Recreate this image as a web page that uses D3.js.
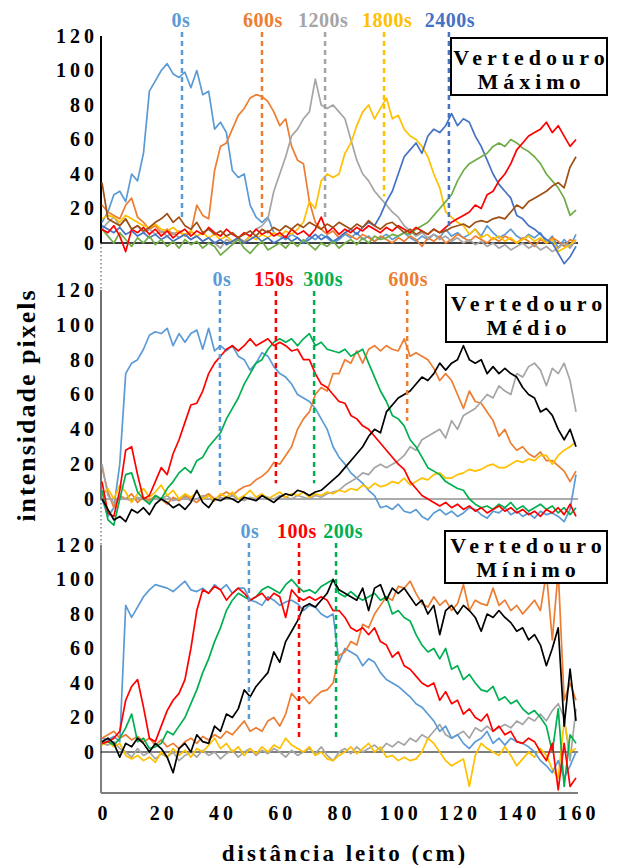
<!DOCTYPE html>
<html>
<head>
<meta charset="utf-8">
<script src="https://cdn.jsdelivr.net/npm/d3@7"></script>
<style>
  body { margin: 0; background: #fff; }
  text { font-family: "Liberation Serif", "Times New Roman", serif; font-weight: bold; }
</style>
</head>
<body>
<svg id="chart" width="617" height="865"></svg>
<script>

  // distance along the bed (cm), shared by every curve
  var dist = [
    0, 2, 4, 6, 8, 10, 12, 14, 16, 18,
    20, 22, 24, 26, 28, 30, 32, 34, 36, 38,
    40, 42, 44, 46, 48, 50, 52, 54, 56, 58,
    60, 62, 64, 66, 68, 70, 72, 74, 76, 78,
    80, 82, 84, 86, 88, 90, 92, 94, 96, 98,
    100, 102, 104, 106, 108, 110, 112, 114, 116, 118,
    120, 122, 124, 126, 128, 130, 132, 134, 136, 138,
    140, 142, 144, 146, 148, 150, 152, 154, 156, 158,
    160];

  var yTicks = [0, 20, 40, 60, 80, 100, 120];
  var xTicks = [0, 20, 40, 60, 80, 100, 120, 140, 160];

  // ---- Vertedouro Maximo ----
  var max0 = [
    12, 18, 28, 30, 24, 40, 36, 52, 88, 94,
    100, 104, 98, 96, 99, 90, 100, 86, 88, 66,
    70, 64, 42, 38, 40, 22, 15, 12, 15, 6,
    4, 2, 5, 3, 0, 4, 2, 5, 3, 0,
    2, 5, 3, 6, 2, 4, 1, 3, 5, 2,
    4, 6, 3, 1, 4, 2, 5, 3, 8, 4,
    6, 3, 5, 8, 4, 10, 6, 3, 5, 8,
    4, 2, 5, 3, 6, 0, 4, -3, 2, -2,
    5];
  var max600 = [
    22, 18, 16, 14, 22, 26, 15, 12, 8, 10,
    6, 8, 5, 7, 4, 6, 22, 16, 14, 42,
    56, 58, 66, 74, 78, 84, 86, 85, 82, 76,
    68, 72, 56, 48, 46, 24, 12, 8, 5, 7,
    3, 6, 4, 2, 5, 3, 1, 4, 2, 0,
    3, 1, 4, 2, -2, 3, 1, 4, 0, 2,
    5, 3, 1, 4, 2, 0, 3, 1, 4, 2,
    0, 3, 1, -2, 2, 0, 3, 1, -2, 2,
    0];
  var max1200 = [
    8, 12, 15, 10, 14, 8, 10, 6, 8, 5,
    7, 4, 6, 3, 5, 2, 4, 1, 3, 0,
    -3, 2, 0, 3, 1, 4, 8, 10, 14, 30,
    40, 50, 62, 66, 72, 76, 95, 80, 78, 80,
    76, 72, 60, 48, 40, 36, 30, 26, 22, 18,
    15, 10, 7, 4, 6, 3, 5, 2, 4, 1,
    3, 0, 2, -1, 1, -2, 0, -3, -1, -4,
    -2, 0, -3, -1, -4, -2, -5, -3, 0, -3,
    2];
  var max1800 = [
    14, 16, 15, 12, 16, 14, 12, 10, 9, 11,
    8, 7, 9, 6, 5, 7, 4, 6, 3, 5,
    2, 4, 1, 3, 0, 4, 2, 5, 3, 6,
    4, 7, 5, 8, 12, 24, 20, 36, 40, 38,
    40, 52, 58, 68, 76, 80, 72, 78, 84, 72,
    74, 66, 62, 60, 56, 50, 40, 32, 18, 15,
    12, 10, 5, 8, 3, 5, 2, 4, 1, 3,
    0, 2, 4, 1, 3, 0, 2, -5, -3, -1,
    2];
  var max2400 = [
    10, 8, 6, 9, 5, 7, 4, 6, 3, 5,
    2, 4, 1, 3, 5, 2, 4, 1, 3, 0,
    2, -1, 1, 3, 0, 2, 4, 1, 3, 0,
    2, 4, 1, 3, 0, 2, 5, 2, 4, 1,
    3, 6, 8, 5, 9, 12, 10, 16, 24, 30,
    40, 50, 54, 58, 52, 62, 66, 64, 68, 75,
    68, 72, 70, 62, 56, 48, 40, 34, 30, 26,
    16, 14, 10, 8, 5, 2, 0, -6, -12, -8,
    -2];
  var maxGreen = [
    8, 4, 0, 6, 2, -2, 3, 0, 4, -1,
    2, -2, 1, -3, 2, -1, 1, -3, 0, -2,
    -7, -4, -1, 2, -3, -6, -2, 1, -4, -2,
    0, -3, 1, -2, 2, -1, -4, 0, -2, 1,
    -3, 0, 2, -1, 3, 0, 4, 2, 3, 5,
    4, 6, 5, 8, 10, 12, 16, 20, 24, 28,
    36, 42, 46, 48, 50, 52, 56, 58, 56, 60,
    58, 55, 53, 50, 46, 40, 36, 32, 26, 16,
    19];
  var maxRed = [
    8, 6, 10, 4, -5, 8, 6, 9, 5, 8,
    4, 7, 3, 6, 8, 4, 7, 5, 9, 6,
    4, 8, 5, 3, 6, 4, 8, 5, 7, 4,
    6, 3, 8, 5, 7, 4, 8, 15, 6, 9,
    5, 8, 6, 9, 7, 10, 8, 6, 9, 7,
    10, 8, 6, 9, 7, 5, 8, 6, 9, 12,
    14, 16, 18, 22, 20, 28, 30, 36, 40, 46,
    54, 58, 62, 64, 66, 70, 64, 68, 62, 56,
    60];
  var maxBrown = [
    35, 14, 12, 10, 14, 8, 10, 7, 9, 12,
    14, 17, 12, 15, 10, 8, 12, 6, 8, 5,
    7, 4, 6, 3, 5, 7, 4, 8, 6, 9,
    7, 10, 8, 11, 9, 12, 10, 8, 11, 9,
    12, 10, 8, 11, 9, 13, 10, 8, 11, 12,
    9, 6, 8, 5, 7, 5, 8, 6, 7, 9,
    10, 11, 9, 12, 13, 12, 14, 15, 14, 18,
    22, 20, 24, 26, 28, 30, 33, 35, 32, 44,
    50];
  var maxTimes = ['0s', '600s', '1200s', '1800s', '2400s'];
  var maxMarkAt = [27, 54, 75.3, 95.2, 117.1];
  var maxMarkEnd = [15, 15, 15, 27, 8];

  // ---- Vertedouro Medio ----
  var med0 = [
    0, -10, -5, 20, 72, 78, 80, 86, 94, 96,
    95, 98, 88, 95, 90, 95, 97, 86, 98, 85,
    88, 85, 88, 82, 80, 74, 78, 84, 82, 76,
    72, 70, 66, 60, 58, 56, 52, 46, 40, 30,
    24, 20, 15, 12, 9, 5, 2, -5, -4, -6,
    -3, -7, -8, -6, -10, -12, -8, -6, -9, -7,
    -10, -8, -5, -6, -9, -11, -7, -8, -5, -9,
    -7, -10, -8, -11, -7, -9, -8, -10, -13, -6,
    14];
  var med150 = [
    10, -8, -10, 5, 28, 30, 14, 0, 2, 10,
    18, 14, 26, 34, 44, 54, 55, 62, 72, 78,
    82, 86, 88, 85, 88, 92, 88, 90, 92, 88,
    90, 88, 85, 86, 80, 80, 72, 66, 64, 60,
    56, 55, 48, 46, 42, 40, 36, 32, 28, 24,
    20, 17, 10, 6, 2, 0, -2, -4, -2, -5,
    -3, -6, -4, -7, -5, -8, -6, -4, -7, -5,
    -8, -6, -9, -7, -10, -6, -8, -5, -9, -3,
    -10];
  var med300 = [
    5, -12, -15, 0, 14, 15, 4, 0, -3, 2,
    0, 6, 10, 15, 18, 15, 22, 24, 30, 34,
    38, 46, 52, 58, 66, 72, 78, 80, 86, 90,
    92, 90, 92, 88, 92, 95, 88, 90, 86, 85,
    84, 86, 82, 84, 86, 78, 70, 62, 56, 48,
    46, 42, 34, 30, 24, 18, 16, 14, 10, 8,
    6, 5, 0, -3, -5, -4, -6, -3, -5, -2,
    -6, -4, -7, -5, -3, -6, -4, -8, -5, -9,
    -5];
  var med600 = [
    18, 4, -5, 2, 0, 3, -2, 1, -1, 2,
    0, -3, 1, -1, 2, 0, -2, 1, 3, 0,
    2, 4, 2, 5, 7, 8, 11, 13, 16, 21,
    20, 25, 30, 40, 46, 50, 60, 64, 62, 72,
    72, 80, 78, 85, 78, 86, 88, 85, 88, 86,
    85, 92, 82, 84, 82, 80, 75, 68, 72, 68,
    60, 52, 62, 56, 55, 50, 45, 36, 40, 32,
    28, 30, 26, 24, 27, 22, 22, 19, 16, 10,
    16];
  var medBlack = [
    0, -6, -12, -10, -13, -6, -8, -5, -9, -3,
    0, -2, -5, -3, -6, -2, 5, -2, -5, 0,
    -1, 1, 0, -2, 1, 0, -1, 2, 0, -2,
    1, 3, 2, 5, 4, 2, 4, 5, 8, 11,
    14, 18, 22, 26, 30, 36, 40, 38, 50, 54,
    58, 60, 62, 66, 70, 68, 72, 78, 74, 78,
    80, 88, 80, 78, 80, 72, 76, 72, 75, 72,
    70, 64, 60, 58, 50, 52, 48, 40, 34, 40,
    30];
  var medGray = [
    20, 2, -2, 1, 0, -1, 1, 0, -2, 1,
    0, 2, -1, 0, 1, -1, 0, 2, 0, -1,
    1, 0, 2, 0, -1, 1, 0, 2, 1, 0,
    2, 1, 0, 2, 1, 0, 2, 1, 3, 4,
    5, 8, 10, 12, 15, 14, 18, 20, 18, 20,
    22, 25, 30, 28, 34, 36, 38, 40, 35, 45,
    40, 48, 50, 52, 56, 60, 58, 65, 62, 60,
    72, 70, 76, 78, 74, 65, 75, 72, 78, 68,
    50];
  var medGold = [
    2, 6, 0, 8, 4, -2, 3, 6, 1, 4,
    8, 2, 5, 0, 3, 1, 4, 0, 2, -1,
    3, 1, 4, 0, 2, 5, 1, 3, 0, 2,
    4, 1, 3, 2, 4, 1, 3, 2, 4, 3,
    5, 4, 6, 5, 8, 6, 9, 7, 8, 10,
    9, 12, 8, 10, 12, 11, 14, 15, 12, 12,
    14, 15, 17, 16, 17, 19, 20, 18, 18, 20,
    22, 21, 23, 22, 25, 25, 20, 25, 28, 30,
    33];
  var medTimes = ['0s', '150s', '300s', '600s'];
  var medMarkAt = [39.8, 58.7, 71.6, 103];
  var medMarkEnd = [6, 9, 9, 45];

  // ---- Vertedouro Minimo ----
  var min0 = [
    8, 7, 9, 6, 85, 78, 84, 90, 94, 97,
    96, 95, 93, 96, 99, 94, 93, 95, 92, 97,
    94, 97, 92, 95, 95, 88, 87, 85, 90, 88,
    85, 87, 88, 86, 82, 85, 84, 80, 78, 80,
    52, 60, 58, 56, 50, 54, 52, 46, 42, 40,
    38, 35, 32, 28, 26, 22, 18, 12, 15, 8,
    10, 5, 2, 6, 8, 12, 5, 8, 4, 8,
    6, 5, 3, 0, -5, -8, -12, -5, -15, -8,
    0];
  var min100 = [
    5, 6, 8, 12, 30, 38, 42, 26, 8, 6,
    15, 24, 30, 34, 42, 60, 82, 94, 92, 96,
    94, 88, 92, 95, 92, 88, 90, 92, 88, 92,
    90, 78, 94, 90, 88, 90, 88, 90, 88, 82,
    82, 78, 72, 70, 72, 68, 72, 64, 62, 55,
    58, 50, 48, 44, 40, 38, 40, 30, 35, 28,
    30, 22, 25, 20, 18, 22, 12, 15, 10, 12,
    6, 5, 8, 6, 0, -5, 5, -22, 5, -20,
    -15];
  var min200 = [
    5, 6, 4, 8, 14, 22, 6, 8, 2, 3,
    5, 12, 10, 15, 20, 28, 36, 46, 54, 64,
    72, 82, 88, 92, 90, 88, 90, 94, 96, 94,
    92, 97, 100, 96, 93, 94, 92, 96, 98, 100,
    92, 90, 93, 90, 88, 90, 92, 88, 90, 80,
    82, 78, 76, 68, 62, 58, 60, 54, 60, 48,
    50, 42, 45, 40, 36, 35, 38, 30, 32, 28,
    30, 25, 22, 24, 20, 15, 0, 25, -20, 10,
    5];
  var minBlack = [
    6, 8, 5, -3, 5, 3, 8, 5, 0, 5,
    2, -3, -12, 2, 5, 0, 10, 6, 5, 15,
    12, 22, 20, 25, 36, 32, 38, 42, 46, 58,
    52, 64, 70, 76, 84, 86, 84, 88, 92, 100,
    94, 92, 90, 88, 95, 82, 95, 97, 88, 95,
    92, 95, 90, 85, 88, 80, 85, 68, 82, 85,
    80, 85, 82, 78, 70, 80, 78, 82, 78, 75,
    70, 72, 65, 68, 62, 50, 60, 72, 15, 48,
    18];
  var minOrange = [
    8, 10, 12, 8, 10, 7, 9, 6, 8, 4,
    7, 3, 5, 2, 6, 8, 5, 9, 7, 10,
    8, 12, 10, 14, 18, 12, 14, 12, 18, 20,
    15, 22, 34, 30, 32, 28, 32, 35, 36, 40,
    56, 58, 64, 62, 74, 72, 80, 85, 90, 88,
    96, 95, 99, 92, 86, 84, 90, 85, 88, 82,
    86, 97, 82, 88, 86, 85, 95, 85, 88, 82,
    85, 80, 84, 88, 82, 104, 65, 105, 30, 40,
    30];
  var minGray = [
    5, 4, 6, 2, 0, -3, 2, -2, 0, -4,
    -1, -3, 0, -5, -2, 0, -3, 1, -2, 0,
    -4, -1, 1, -3, 0, 2, -2, 1, -1, 2,
    0, -3, 1, -2, 0, 2, -1, 3, -2, -5,
    0, 2, -1, 3, 0, 2, 4, 1, 5, 3,
    6, 4, 8, 6, 10, 8, 12, 16, 10, 8,
    10, 12, 8, 14, 12, 15, 12, 14, 16, 14,
    18, 16, 20, 18, 22, 18, 24, 28, 20, -5,
    25];
  var minGold = [
    4, 6, 3, 5, -2, -4, -2, -5, -3, -6,
    0, -3, 2, -2, 1, -3, 2, 0, 4, 8,
    2, 5, 0, 3, -2, 2, -1, 3, 0, 4,
    2, 8, 4, 2, 0, 3, -2, 0, -4, -5,
    -2, 0, 3, -1, 2, 5, 0, 3, -3, -2,
    -5, -3, -5, -4, 0, 8, 5, 0, -5, -8,
    -6, -4, -20, -2, 5, 2, 0, -2, 3, -2,
    -8, -4, 0, -3, 2, -2, -10, -15, 18, 0,
    2];
  var minTimes = ['0s', '100s', '200s'];
  var minMarkAt = [49.6, 66.5, 79];
  var minMarkEnd = [18, 7, 7];

  var lightBlue = '#5b9bd5', orange = '#ed7d31', gray = '#a5a5a5', gold = '#ffc000',
      blue = '#4472c4', olive = '#70ad47', red = '#ff0000', brown = '#9e4f14',
      green = '#00b050', black = '#000000';

  var panels = [
    {
      title: ['Vertedouro', 'Máximo'], top: 36, zero: 243,
      box: [451, 38, 156, 57], textY: [65, 89], labelY: 27,
      axisColor: '#000', axisWidth: 2, zeroColor: '#000', zeroWidth: 1.5,
      series: [[max0, lightBlue], [max600, orange], [max1200, gray], [max1800, gold],
               [max2400, blue], [maxGreen, olive], [maxRed, red], [maxBrown, brown]],
      times: maxTimes, at: maxMarkAt, end: maxMarkEnd, shift: [-1, 1, -2, 3, 1],
      colors: [lightBlue, orange, gray, gold, blue]
    },
    {
      title: ['Vertedouro', 'Médio'], top: 290, zero: 499,
      box: [446, 285, 161, 57], textY: [311, 335], labelY: 286,
      axisColor: '#404040', axisWidth: 1.5, zeroColor: '#595959', zeroWidth: 1,
      series: [[med0, lightBlue], [med600, orange], [medGray, gray], [medGold, gold],
               [med300, green], [med150, red], [medBlack, black]],
      times: medTimes, at: medMarkAt, end: medMarkEnd, shift: [2, -2, 9, 1],
      colors: [lightBlue, red, green, orange]
    },
    {
      title: ['Vertedouro', 'Mínimo'], top: 545, zero: 752,
      box: [445, 531, 162, 52], textY: [553, 577], labelY: 538,
      axisColor: '#7f7f7f', axisWidth: 2, zeroColor: '#000', zeroWidth: 1,
      series: [[minGray, gray], [minGold, gold], [min0, lightBlue], [minOrange, orange],
               [min200, green], [min100, red], [minBlack, black]],
      times: minTimes, at: minMarkAt, end: minMarkEnd, shift: [1, -2, 7],
      colors: [lightBlue, red, green]
    }
  ];

  var svg = d3.select('#chart');

  var x = d3.scaleLinear().domain([0, 160]).range([102, 576]);

  // dotted links between the stacked y axes
  [[243, 290], [499, 545]].forEach(function (s) {
    svg.append('line')
      .attr('x1', 101).attr('x2', 101)
      .attr('y1', s[0]).attr('y2', s[1])
      .attr('stroke', '#7f7f7f')
      .attr('stroke-width', 1.5)
      .attr('stroke-dasharray', '1.5,2.5');
  });

  panels.forEach(function (p, k) {

    var y = d3.scaleLinear().domain([0, 120]).range([p.zero, p.top]);
    var g = svg.append('g');

    // vertical axis
    var axisBottom = k === 2 ? 793 : p.zero;
    g.append('line')
      .attr('x1', 101).attr('x2', 101)
      .attr('y1', p.top).attr('y2', axisBottom)
      .attr('stroke', p.axisColor)
      .attr('stroke-width', p.axisWidth);

    var yAxis = g.append('g')
      .attr('transform', 'translate(101,0)')
      .call(d3.axisLeft(y).tickValues(yTicks).tickSize(0).tickPadding(3).tickFormat(d3.format('d')));
    yAxis.select('.domain').remove();
    yAxis.selectAll('text')
      .attr('fill', '#000')
      .style('font-size', '20px')
      .style('letter-spacing', '4px')
      .style('font-family', '"Liberation Serif", serif')
      .style('font-weight', 'bold');

    // zero line
    g.append('line')
      .attr('x1', 101).attr('x2', 578)
      .attr('y1', y(0)).attr('y2', y(0))
      .attr('stroke', p.zeroColor)
      .attr('stroke-width', p.zeroWidth);

    var line = d3.line()
      .x(function (d, i) { return x(dist[i]); })
      .y(function (d) { return y(d); });

    g.selectAll('path.curve')
      .data(p.series)
      .enter()
      .append('path')
        .attr('class', 'curve')
        .attr('d', function (s) { return line(s[0]); })
        .attr('fill', 'none')
        .attr('stroke', function (s) { return s[1]; })
        .attr('stroke-width', 1.7)
        .attr('stroke-linejoin', 'round');

    // time markers
    p.times.forEach(function (t, i) {
      g.append('line')
        .attr('x1', x(p.at[i])).attr('x2', x(p.at[i]))
        .attr('y1', p.labelY + 5).attr('y2', y(p.end[i]))
        .attr('stroke', p.colors[i])
        .attr('stroke-width', 2.5)
        .attr('stroke-dasharray', '5,4');
      g.append('text')
        .attr('x', x(p.at[i]) + p.shift[i])
        .attr('y', p.labelY)
        .attr('text-anchor', 'middle')
        .attr('fill', p.colors[i])
        .style('font-size', '20px')
        .style('letter-spacing', '0.5px')
        .text(t);
    });

    // name box
    g.append('rect')
      .attr('x', p.box[0]).attr('y', p.box[1])
      .attr('width', p.box[2]).attr('height', p.box[3])
      .attr('fill', '#fff')
      .attr('stroke', '#000')
      .attr('stroke-width', 2);
    p.title.forEach(function (t, i) {
      g.append('text')
        .attr('x', p.box[0] + p.box[2] / 2 + 2.5)
        .attr('y', p.textY[i])
        .attr('text-anchor', 'middle')
        .attr('fill', '#000')
        .style('font-size', '22px')
        .style('letter-spacing', '5px')
        .text(t);
    });
  });

  // shared distance axis
  svg.append('line')
    .attr('x1', 101).attr('x2', 578)
    .attr('y1', 793).attr('y2', 793)
    .attr('stroke', '#7f7f7f')
    .attr('stroke-width', 2);

  var xAxis = svg.append('g')
    .attr('transform', 'translate(0,793)')
    .call(d3.axisBottom(x).tickValues(xTicks).tickSize(0).tickPadding(13).tickFormat(d3.format('d')));
  xAxis.select('.domain').remove();
  xAxis.selectAll('text')
    .attr('fill', '#000')
    .attr('dx', '2px')
    .style('font-size', '20px')
    .style('letter-spacing', '4px')
    .style('font-family', '"Liberation Serif", serif')
    .style('font-weight', 'bold');

  svg.append('text')
    .attr('x', 345)
    .attr('y', 861)
    .attr('text-anchor', 'middle')
    .style('font-size', '23px')
    .style('letter-spacing', '3px')
    .text('distância leito (cm)');

  svg.append('text')
    .attr('transform', 'translate(35,405) rotate(-90)')
    .attr('text-anchor', 'middle')
    .style('font-size', '26px')
    .style('letter-spacing', '2px')
    .text('intensidade pixels');

</script>
</body>
</html>
